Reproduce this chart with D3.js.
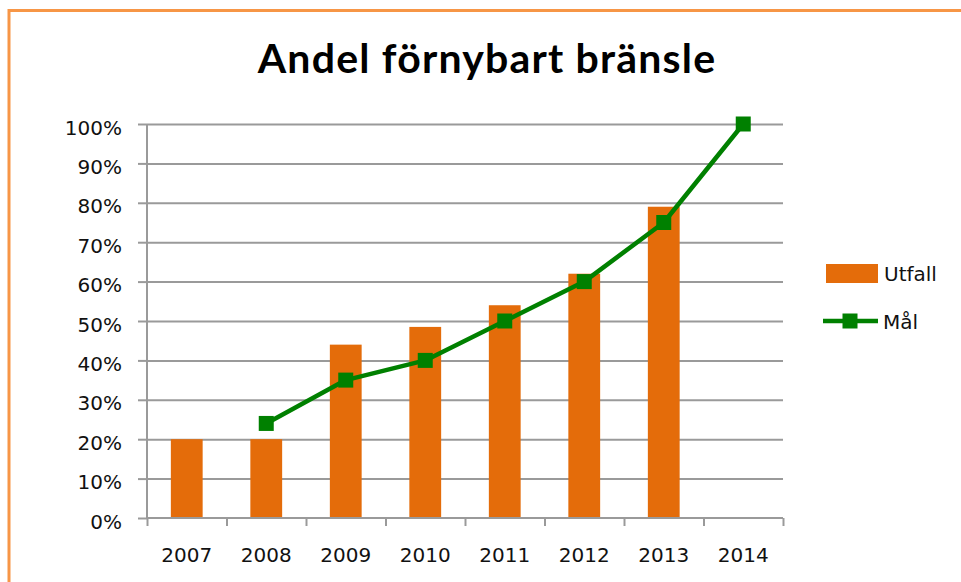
<!DOCTYPE html>
<html>
<head>
<meta charset="utf-8">
<script src="https://cdn.jsdelivr.net/npm/d3@7"></script>
<style>
  html, body { margin: 0; padding: 0; background: #fff; }
  svg { display: block; }
</style>
</head>
<body>
<svg id="chart" width="961" height="582"></svg>
<script>
const years = ["2007", "2008", "2009", "2010", "2011", "2012", "2013", "2014"];
const utfall = [20, 20, 44, 48.5, 54, 62, 79, null];
const mal = [null, 24, 35, 40, 50, 60, 75, 100];
const yTicks = [0, 10, 20, 30, 40, 50, 60, 70, 80, 90, 100];
const titleText = "Andel förnybart bränsle";
const seriesNames = ["Utfall", "Mål"];

(function () {
const svg = d3.select("#chart");
const pL = 147, pR = 783, pT = 124, pB = 518;
const orange = "#E46C0A", green = "#008000", grid = "#9a9a9a";
const font = "'DejaVu Sans', Verdana, sans-serif";

svg.append("rect").attr("x", 0).attr("y", 0).attr("width", 961).attr("height", 582).attr("fill", "#fff");
svg.append("rect").attr("x", 9).attr("y", 10.5).attr("width", 1200).attr("height", 1200)
  .attr("fill", "none").attr("stroke", "#F79646").attr("stroke-width", 3);

svg.append("text").attr("x", 487).attr("y", 73).attr("text-anchor", "middle")
  .attr("font-family", "Lato, 'Open Sans', sans-serif").attr("font-weight", "bold")
  .attr("font-size", 41).attr("letter-spacing", 1.2).attr("fill", "#000").text(titleText);

const y = d3.scaleLinear().domain([0, 100]).range([pB, pT]);
const x = d3.scaleBand().domain(years).range([pL, pR]).paddingInner(0.6).paddingOuter(0.3);
const xb = d3.scaleLinear().domain([0, years.length]).range([pL, pR]);

// gridlines
const gridG = svg.append("g").attr("transform", `translate(${pL},0)`)
  .call(d3.axisLeft(y).tickValues(yTicks.filter(d => d > 0)).tickSize(-(pR - pL)).tickFormat(""));
gridG.select(".domain").remove();
gridG.selectAll("line").attr("stroke", grid).attr("stroke-width", 2);

// bars
svg.append("g").selectAll("rect")
  .data(years.map((yr, i) => ({ yr, v: utfall[i] })).filter(d => d.v != null))
  .join("rect")
  .attr("x", d => x(d.yr)).attr("width", x.bandwidth())
  .attr("y", d => y(d.v)).attr("height", d => y(0) - y(d.v))
  .attr("fill", orange);

// y axis
const yAxis = svg.append("g").attr("transform", `translate(${pL},0)`)
  .call(d3.axisLeft(y).tickValues(yTicks).tickSize(9).tickPadding(16).tickFormat(d => d + "%"));
yAxis.selectAll("line, path").attr("stroke", grid).attr("stroke-width", 2);
yAxis.select(".domain").attr("d", `M0,${pT}V${pB}`);
yAxis.selectAll("text").attr("font-family", font).attr("font-size", 20).attr("fill", "#111").attr("dy", "0.5em");

// x axis
const xAxis = svg.append("g").attr("transform", `translate(0,${pB})`)
  .call(d3.axisBottom(xb).tickValues(d3.range(years.length + 1)).tickSize(8).tickFormat(""));
xAxis.selectAll("line, path").attr("stroke", grid).attr("stroke-width", 2);
xAxis.select(".domain").attr("d", `M${pL},0H${pR}`);
svg.append("g").selectAll("text").data(years).join("text")
  .attr("x", d => x(d) + x.bandwidth() / 2).attr("y", pB + 44)
  .attr("text-anchor", "middle").attr("font-family", font).attr("font-size", 20).attr("fill", "#111")
  .text(d => d);

// line
const pts = years.map((yr, i) => ({ yr, v: mal[i] })).filter(d => d.v != null);
const line = d3.line().x(d => x(d.yr) + x.bandwidth() / 2).y(d => y(d.v));
svg.append("path").datum(pts).attr("d", line).attr("fill", "none")
  .attr("stroke", green).attr("stroke-width", 4.5).attr("stroke-linejoin", "round");
const ms = 15;
svg.append("g").selectAll("rect").data(pts).join("rect")
  .attr("x", d => x(d.yr) + x.bandwidth() / 2 - ms / 2).attr("y", d => y(d.v) - ms / 2)
  .attr("width", ms).attr("height", ms).attr("fill", green);

// legend
const lg = svg.append("g");
lg.append("rect").attr("x", 826).attr("y", 264).attr("width", 52).attr("height", 19).attr("fill", orange);
lg.append("text").attr("x", 884).attr("y", 281).attr("font-family", font).attr("font-size", 20).attr("fill", "#111").text(seriesNames[0]);
lg.append("line").attr("x1", 823).attr("x2", 878).attr("y1", 321).attr("y2", 321).attr("stroke", green).attr("stroke-width", 4.5);
lg.append("rect").attr("x", 850 - ms / 2).attr("y", 321 - ms / 2).attr("width", ms).attr("height", ms).attr("fill", green);
lg.append("text").attr("x", 883).attr("y", 329).attr("font-family", font).attr("font-size", 20).attr("fill", "#111").text(seriesNames[1]);
})();
</script>
</body>
</html>
